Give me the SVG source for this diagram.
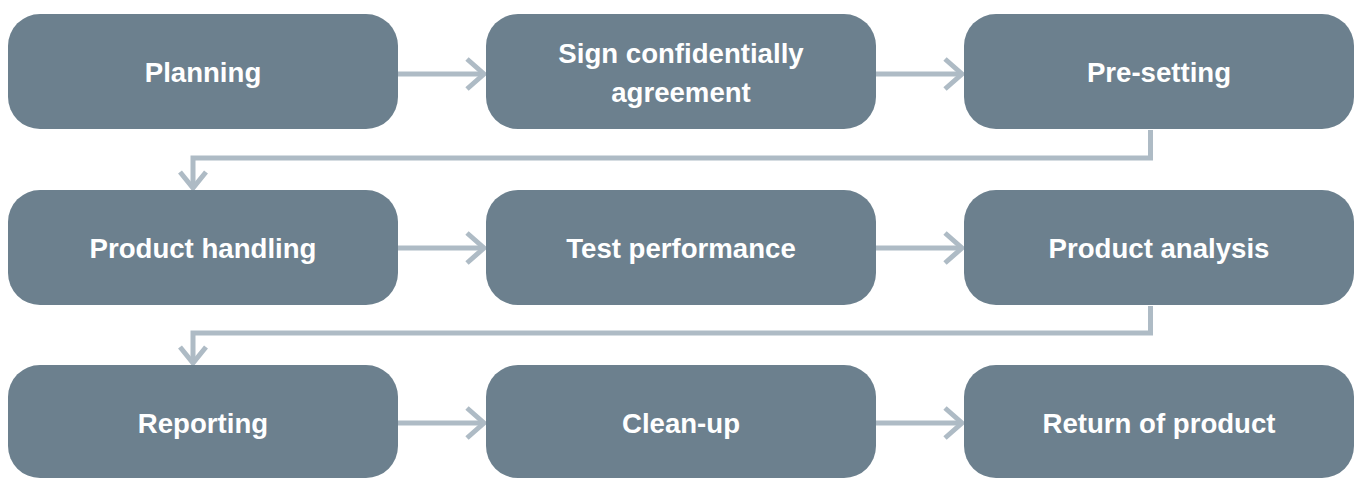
<svg xmlns="http://www.w3.org/2000/svg" width="1357" height="478" viewBox="0 0 1357 478">
<style>
.n{fill:#6c808e}
.t{fill:#ffffff;font-family:"Liberation Sans",Arial,sans-serif;font-weight:bold;font-size:27.6px;text-anchor:middle}
.c{fill:none;stroke:#aebbc5;stroke-width:5}
</style>
<rect width="1357" height="478" fill="#ffffff"/>
<g id="connectors">
<path class="c" d="M398 74H483"/>
<path class="c" d="M467 59L484 74L467 89"/>
<path class="c" d="M876 74H961"/>
<path class="c" d="M945 59L962 74L945 89"/>
<path class="c" d="M1150.5 130V158H193V187"/>
<path class="c" d="M180 172L193 188L206 172"/>
<path class="c" d="M398 248H483"/>
<path class="c" d="M467 233L484 248L467 263"/>
<path class="c" d="M876 248H961"/>
<path class="c" d="M945 233L962 248L945 263"/>
<path class="c" d="M1150.5 306V333H193V362"/>
<path class="c" d="M180 347L193 363L206 347"/>
<path class="c" d="M398 423H483"/>
<path class="c" d="M467 408L484 423L467 438"/>
<path class="c" d="M876 423H961"/>
<path class="c" d="M945 408L962 423L945 438"/>
</g>
<g id="n1"><rect class="n" x="8" y="14" width="390" height="115" rx="32"/><text class="t" x="203" y="82">Planning</text></g>
<g id="n2"><rect class="n" x="486" y="14" width="390" height="115" rx="32"/><text class="t" x="681" y="63">Sign confidentially</text><text class="t" x="681" y="102">agreement</text></g>
<g id="n3"><rect class="n" x="964" y="14" width="390" height="115" rx="32"/><text class="t" x="1159" y="82">Pre-setting</text></g>
<g id="n4"><rect class="n" x="8" y="190" width="390" height="115" rx="32"/><text class="t" x="203" y="258">Product handling</text></g>
<g id="n5"><rect class="n" x="486" y="190" width="390" height="115" rx="32"/><text class="t" x="681" y="258">Test performance</text></g>
<g id="n6"><rect class="n" x="964" y="190" width="390" height="115" rx="32"/><text class="t" x="1159" y="258">Product analysis</text></g>
<g id="n7"><rect class="n" x="8" y="365" width="390" height="113" rx="32"/><text class="t" x="203" y="433">Reporting</text></g>
<g id="n8"><rect class="n" x="486" y="365" width="390" height="113" rx="32"/><text class="t" x="681" y="433">Clean-up</text></g>
<g id="n9"><rect class="n" x="964" y="365" width="390" height="113" rx="32"/><text class="t" x="1159" y="433">Return of product</text></g>
</svg>
